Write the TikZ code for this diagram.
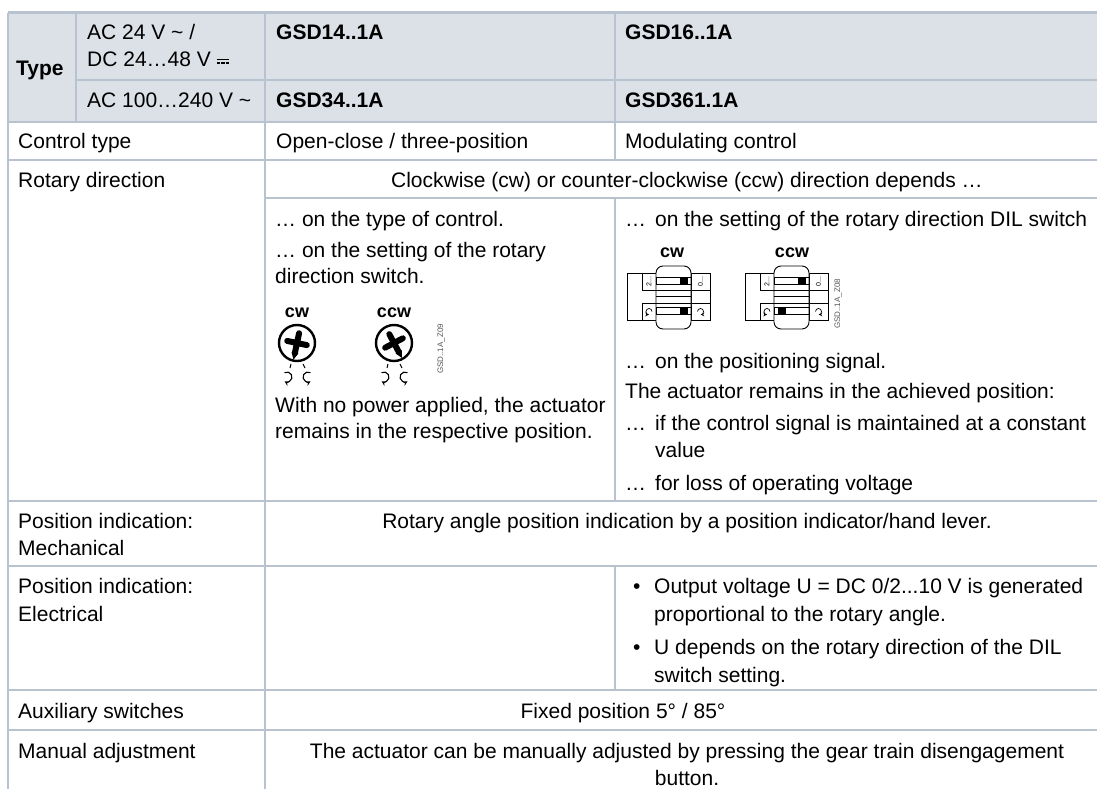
\documentclass[tikz,border=0pt]{standalone}
\usepackage{fontspec}
\setmainfont{Liberation Sans}
\usetikzlibrary{arrows}
\definecolor{gridline}{HTML}{B8C3CF}
\definecolor{headfill}{HTML}{DCE1E7}
\definecolor{codegray}{HTML}{555555}
\tikzstyle{txt} = [anchor=base west, inner sep=0pt, font=\fontsize{21}{27}\selectfont]
\tikzstyle{hdr} = [txt, font=\fontsize{21}{27}\selectfont\bfseries]
\tikzstyle{mid} = [txt, anchor=base]
\tikzstyle{gridln} = [draw=gridline, line width=1.2pt]
\tikzstyle{lbl} = [anchor=base, inner sep=0pt, font=\fontsize{18}{20}\selectfont\bfseries]
\tikzstyle{code} = [inner sep=0pt, rotate=90, font=\fontsize{8}{9}\selectfont, text=codegray]
\tikzstyle{swlbl} = [inner sep=0pt, rotate=90, font=\fontsize{7}{8}\selectfont]
\tikzstyle{rotarrow} = [line width=1.1pt, ->, >=stealth]
\newcommand{\dcsign}{\raisebox{0.28ex}{\vbox{\hrule width 0.6em height 0.07em\kern0.1em\hbox to 0.6em{\vrule width 0.15em height 0.07em\hfil\vrule width 0.15em height 0.07em\hfil\vrule width 0.15em height 0.07em}}}}
\newcommand{\knob}[3]{%
  \draw[line width=2.4pt] (#1,#2) circle (18);
  \draw[line width=6pt, line cap=round, rotate around={#3:(#1,#2)}] (#1-10,#2) -- (#1+10,#2) (#1,#2-10) -- (#1,#2+10);
  \fill[rotate around={#3:(#1,#2)}] (#1-3.5,#2+10) -- (#1+3.5,#2+10) -- (#1,#2+17) -- cycle;
  \draw[line width=1pt] (#1-6,#2+21) -- (#1-7,#2+25) (#1+6,#2+21) -- (#1+8,#2+25);
  \draw[rotarrow] (#1-12.5,#2+29.7) arc[start angle=-120, end angle=120, radius=5];
  \draw[rotarrow] (#1+13.5,#2+29.7) arc[start angle=-60, end angle=-300, radius=5];
}
\newcommand{\dilswitch}[4]{%
  \begin{scope}[shift={(#1,#2)}, line width=0.9pt]
    \draw (0,0) rectangle (29,47);
    \draw (15,0) |- (29,17) (15,47) |- (29,30);
    \draw (64,0) rectangle (83,47) (64,17) -- (83,17) (64,30) -- (83,30);
    \draw[fill=white, rounded corners=7pt] (29,-7) rectangle (64,56);
    \draw (29,4) rectangle (64,11) (29,34) rectangle (64,41);
    \draw (29,17) -- (64,17) (29,23.5) -- (64,23.5) (29,30) -- (64,30);
    \fill (#3,4) rectangle +(8,7);
    \fill (#4,34) rectangle +(8,7);
    \node[swlbl] at (22,8.5) {2...};
    \node[swlbl] at (73.5,8.5) {0...};
    \draw[line width=0.7pt, ->, >=stealth] (25,38.5) arc[start angle=0, end angle=-270, radius=3];
    \draw[line width=0.7pt, ->, >=stealth] (70.5,38.5) arc[start angle=180, end angle=450, radius=3];
  \end{scope}}

\begin{document}
\begin{tikzpicture}[x=1pt, y=-1pt]
\useasboundingbox (0,0) rectangle (1097,789);
\fill[headfill] (8,13) rectangle (1097,122);

\draw[gridln, line width=3pt] (8,13) -- (1097,13);
\draw[gridln] (76,80) -- (1097,80);
\draw[gridln] (8,122) -- (1097,122);
\draw[gridln] (8,160) -- (1097,160);
\draw[gridln] (265,198) -- (1097,198);
\draw[gridln] (8,501) -- (1097,501);
\draw[gridln] (8,566) -- (1097,566);
\draw[gridln] (8,690) -- (1097,690);
\draw[gridln] (8,730) -- (1097,730);
\draw[gridln] (8,13) -- (8,789);
\draw[gridln] (76,13) -- (76,122);
\draw[gridln] (265,13) -- (265,789);
\draw[gridln] (615,13) -- (615,160);
\draw[gridln] (615,198) -- (615,501);
\draw[gridln] (615,566) -- (615,690);

\node (type) [hdr] at (16,76) {Type};
\node (volt1) [txt] at (87,40) {AC 24 V \textasciitilde{} /};
\node (volt2) [txt] at (87,67) {DC 24…48 V \dcsign};
\node (volt3) [txt] at (87,108) {AC 100…240 V \textasciitilde};
\node (gsd14) [hdr] at (276,40) {GSD14..1A};
\node (gsd16) [hdr] at (625,40) {GSD16..1A};
\node (gsd34) [hdr] at (276,108) {GSD34..1A};
\node (gsd361) [hdr] at (625,108) {GSD361.1A};

\node (ctl) [txt] at (18,149) {Control type};
\node (ctlA) [txt] at (276,149) {Open-close / three-position};
\node (ctlB) [txt] at (625,149) {Modulating control};

\node (rot) [txt] at (18,187) {Rotary direction};
\node (rotall) [mid] at (687,187) {Clockwise (cw) or counter-clockwise (ccw) direction depends …};

\node (rotA1) [txt] at (275,226) {… on the type of control.};
\node (rotA2) [txt] at (275,257) {… on the setting of the rotary};
\node (rotA3) [txt] at (275,283) {direction switch.};
\node (cwA) [lbl] at (297,317) {cw};
\node (ccwA) [lbl] at (394,317) {ccw};
\knob{297}{343}{-12}
\knob{394}{343}{28}
\node (zA) [code] at (441,349) {GSD..1A\_Z09};
\node (rotA4) [txt] at (275,412) {With no power applied, the actuator};
\node (rotA5) [txt] at (275,438) {remains in the respective position.};

\node (rotB1) [txt] at (625,226) {\makebox[30pt][l]{…}on the setting of the rotary direction DIL switch};
\node (cwB) [lbl] at (672,257) {cw};
\node (ccwB) [lbl] at (792,257) {ccw};
\dilswitch{627}{273}{53}{53}
\dilswitch{745}{273}{53}{33}
\node (zB) [code] at (838,304) {GSD..1A\_Z08};
\node (rotB2) [txt] at (625,368) {\makebox[30pt][l]{…}on the positioning signal.};
\node (rotB3) [txt] at (625,398) {The actuator remains in the achieved position:};
\node (rotB4) [txt] at (625,430) {\makebox[30pt][l]{…}if the control signal is maintained at a constant};
\node (rotB5) [txt] at (655,457) {value};
\node (rotB6) [txt] at (625,490) {\makebox[30pt][l]{…}for loss of operating voltage};

\node (mech1) [txt] at (18,528) {Position indication:};
\node (mech2) [txt] at (18,555) {Mechanical};
\node (mechall) [mid] at (687,528) {Rotary angle position indication by a position indicator/hand lever.};

\node (elec1) [txt] at (18,593) {Position indication:};
\node (elec2) [txt] at (18,621) {Electrical};
\node (bul1) [txt] at (633,593) {•};
\node (elecB1) [txt] at (654,593) {Output voltage U = DC 0/2...10 V is generated};
\node (elecB2) [txt] at (654,621) {proportional to the rotary angle.};
\node (bul2) [txt] at (633,654) {•};
\node (elecB3) [txt] at (654,654) {U depends on the rotary direction of the DIL};
\node (elecB4) [txt] at (654,682) {switch setting.};

\node (aux) [txt] at (18,718) {Auxiliary switches};
\node (auxall) [mid] at (623,718) {Fixed position 5° / 85°};

\node (man) [txt] at (18,758) {Manual adjustment};
\node (manall1) [mid] at (687,758) {The actuator can be manually adjusted by pressing the gear train disengagement};
\node (manall2) [mid] at (687,785) {button.};
\end{tikzpicture}
\end{document}
